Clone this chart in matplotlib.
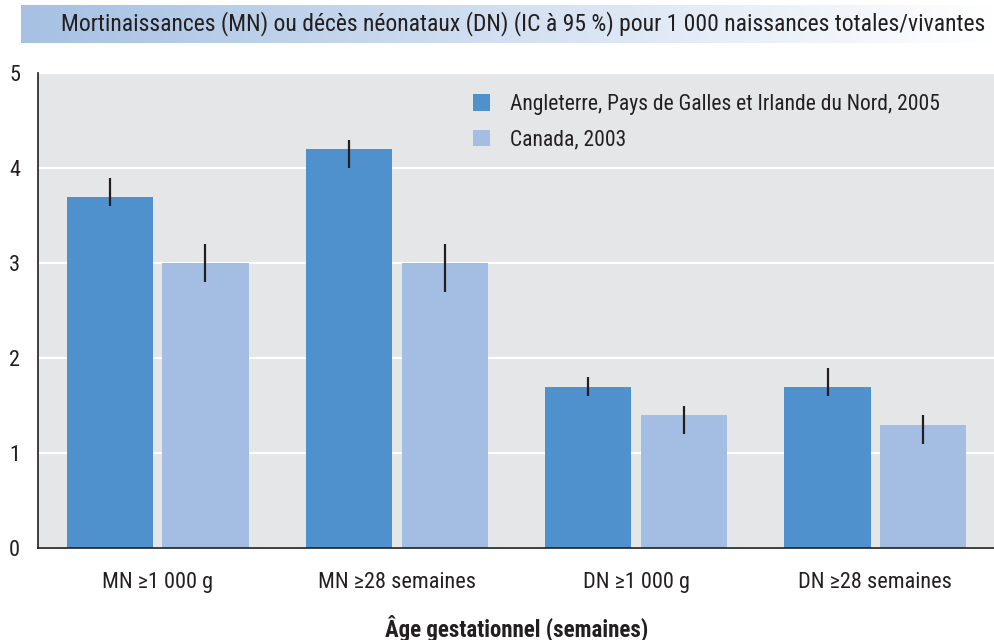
import numpy as np
import matplotlib
matplotlib.use("Agg")
import matplotlib.pyplot as plt
from matplotlib.colors import LinearSegmentedColormap

plt.rcParams["font.family"] = ["Roboto Condensed", "DejaVu Sans"]

categories = ["MN \u22651 000 g", "MN \u226528 semaines", "DN \u22651 000 g", "DN \u226528 semaines"]
series = ["Angleterre, Pays de Galles et Irlande du Nord, 2005", "Canada, 2003"]
uk_vals = [3.7, 4.2, 1.7, 1.7]
uk_low = [3.6, 4.0, 1.6, 1.6]
uk_high = [3.9, 4.3, 1.8, 1.9]
ca_vals = [3.0, 3.0, 1.4, 1.3]
ca_low = [2.8, 2.7, 1.2, 1.1]
ca_high = [3.2, 3.2, 1.5, 1.4]

title = "Mortinaissances (MN) ou décès néonataux (DN) (IC à 95 %) pour 1 000 naissances totales/vivantes"
xlabel = "Âge gestationnel (semaines)"

UK_COLOR = "#4F91CD"
CA_COLOR = "#A3BDE3"
BG = "#E5E6E8"
TXT = "#231F20"

fig = plt.figure(figsize=(9.95, 6.4), dpi=100)
ax = fig.add_axes([38 / 995, 1 - 548 / 640, 957 / 995, 475 / 640])
ax.set_facecolor(BG)

x = np.arange(len(categories))
w = 0.36
off = 0.2
uk_err = [np.array(uk_vals) - np.array(uk_low), np.array(uk_high) - np.array(uk_vals)]
ca_err = [np.array(ca_vals) - np.array(ca_low), np.array(ca_high) - np.array(ca_vals)]
ax.bar(x - off, uk_vals, w, color=UK_COLOR, label=series[0], zorder=2)
ax.bar(x + off, ca_vals, w, color=CA_COLOR, label=series[1], zorder=2)
ax.errorbar(x - off, uk_vals, yerr=uk_err, fmt="none", ecolor=TXT, elinewidth=1.6, capsize=0, zorder=3)
ax.errorbar(x + off, ca_vals, yerr=ca_err, fmt="none", ecolor=TXT, elinewidth=1.6, capsize=0, zorder=3)

ax.set_xlim(-0.5, 3.5)
ax.set_ylim(0, 5)
ax.set_yticks(range(6))
ax.yaxis.grid(True, color="white", linewidth=1.5, zorder=1)
ax.set_axisbelow(True)
for s in ["top", "right"]:
    ax.spines[s].set_visible(False)
for s in ["left", "bottom"]:
    ax.spines[s].set_color(TXT)
    ax.spines[s].set_linewidth(1.2)
ax.tick_params(axis="both", length=0, labelsize=16, colors=TXT)
ax.tick_params(axis="x", pad=17)
ax.tick_params(axis="y", pad=13)
ax.set_xticks(x)
ax.set_xticklabels(categories)
ax.set_xlabel(xlabel, fontsize=16.5, fontweight="bold", color=TXT, labelpad=16)

leg = ax.legend(loc="upper left", bbox_to_anchor=(0.4545, 0.956), frameon=False,
                fontsize=15.5, handlelength=0.8, handleheight=0.8, handletextpad=0.9,
                labelspacing=0.68, borderpad=0, borderaxespad=0, labelcolor=TXT)

# title banner with a blue-to-white gradient
tax = fig.add_axes([21 / 995, 1 - 43 / 640, 974 / 995, 38 / 640])
cmap = LinearSegmentedColormap.from_list("banner", ["#A6C1E3", "#FFFFFF"])
tax.imshow(np.linspace(0, 1, 256).reshape(1, -1), aspect="auto", cmap=cmap,
           extent=[0, 1, 0, 1])
tax.set_axis_off()
tax.text(0.99, 0.5, title, ha="right", va="center", fontsize=17, color=TXT,
         transform=tax.transAxes)

fig.savefig("out.png", dpi=100)
